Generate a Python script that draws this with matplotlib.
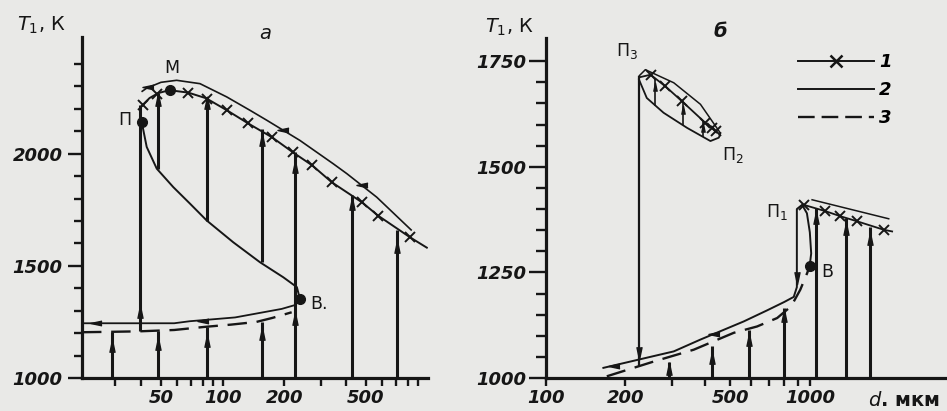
import matplotlib.pyplot as plt
from matplotlib.lines import Line2D
from matplotlib.ticker import NullFormatter

plt.rcParams['font.family'] = ['DejaVu Sans']
plt.rcParams['lines.scale_dashes'] = False
plt.rcParams['mathtext.fontset'] = 'dejavusans'

INK = '#161616'
BG = '#e9e9e7'

# ---------------- panel a (d, um -> T1, K) ----------------
# curve 1 (steady burning, with x marks)
a_c1_d = [40, 44, 48.5, 55, 68, 83, 105, 133, 174, 220, 273, 341, 478, 572, 820, 990]
a_c1_T = [2210, 2248, 2270, 2283, 2272, 2247, 2193, 2135, 2073, 2006, 1948, 1872, 1783, 1724, 1627, 1581]
a_mark_d = [41, 48, 68, 84, 105, 133, 174, 220, 273, 341, 478, 572, 820]
a_mark_T = [2215, 2265, 2272, 2245, 2193, 2135, 2073, 2006, 1948, 1872, 1783, 1724, 1627]
# thin line above curve 1
a_top_d = [40.5, 42.6, 50, 59.6, 77.5, 104.6, 136, 164, 238, 346, 403, 564, 830]
a_top_T = [2278, 2292, 2318, 2327, 2312, 2253, 2193, 2149, 2059, 1955, 1911, 1806, 1660]
# curve 2: П -> В and lower branch back to the left
a_c2_d = [40.3, 42.6, 47.7, 57.4, 69.3, 83.6, 112.6, 152, 197.5, 230, 238]
a_c2_T = [2140, 2030, 1933, 1851, 1777, 1702, 1605, 1516, 1449, 1405, 1353]
a_low_d = [238, 225, 194, 115, 69, 58, 21]
a_low_T = [1353, 1325, 1308, 1270, 1253, 1244, 1244]
# curve 3 (dashed)
a_c3_d = [20.6, 29, 39, 58, 82, 110, 146, 175, 217]
a_c3_T = [1204, 1206, 1208, 1214, 1228, 1238, 1250, 1268, 1293]
# vertical jumps
a_v_d = [29, 39.5, 48.5, 48.5, 84, 84, 155, 155, 225, 426, 705]
a_v_lo = [1000, 1208, 1000, 1933, 1000, 1702, 1000, 1516, 1000, 1000, 1000]
a_v_hi = [1204, 2215, 1211, 2270, 1226, 2247, 1248, 2110, 2006, 1814, 1660]
a_up_d = [29, 39.5, 48.5, 48.5, 84, 84, 155, 155, 225, 225, 426, 705]
a_up_T = [1144, 1292, 1152, 2238, 1167, 2224, 1196, 2060, 1265, 1940, 1777, 1583]
a_left_d = [43, 197, 476, 24, 80]
a_left_T = [2296, 2105, 1862, 1244, 1256]
a_dot_d = [40.3, 55.4, 238]
a_dot_T = [2140, 2283, 1353]

# ---------------- panel b ----------------
b_c1_d = [226, 249, 283, 328, 402, 426, 440]
b_c1_T = [1712, 1718, 1691, 1655, 1604, 1592, 1584]
b_top_d = [226, 238, 305, 385, 458]
b_top_T = [1716, 1730, 1699, 1648, 1580]
b_bot_d = [225, 241, 279, 343, 420, 452, 458]
b_bot_T = [1707, 1663, 1628, 1592, 1561, 1569, 1580]
b_r1_d = [935, 948, 1146, 1306, 1511, 1906, 2051]
b_r1_T = [1408, 1410, 1395, 1383, 1371, 1351, 1347]
b_rtop_d = [1020, 1991]
b_rtop_T = [1422, 1377]
b_c2_d = [165, 305, 385, 562, 688, 800, 869, 893, 893, 935, 975, 1000, 1012, 999]
b_c2_T = [1024, 1063, 1091, 1134, 1160, 1180, 1192, 1215, 1400, 1410, 1390, 1345, 1295, 1266]
b_c3_d = [170, 256, 363, 515, 631, 752, 850, 920, 978, 999]
b_c3_T = [1004, 1039, 1067, 1107, 1122, 1142, 1170, 1209, 1249, 1266]
b_v_d = [292, 426, 587, 796, 1060, 1377, 1687]
b_v_lo = [1000, 1000, 1000, 1000, 1000, 1000, 1000]
b_v_hi = [1039, 1075, 1114, 1166, 1403, 1379, 1357]
b_p3_d = [225, 225]
b_p3_T = [1712, 1031]
b_in_d = [260, 331, 395]
b_in_lo = [1645, 1599, 1571]
b_in_hi = [1710, 1653, 1609]
b_up_d = [292, 426, 587, 796, 1060, 1377, 1687, 260, 331, 395]
b_up_T = [1022, 1048, 1091, 1146, 1380, 1352, 1330, 1690, 1635, 1593]
b_down_d = [225, 893]
b_down_T = [1060, 1237]
b_left_d = [181, 432]
b_left_T = [1029, 1103]
b_dot_d = [999]
b_dot_T = [1266]

UP = [(-0.42, -1), (0, 1), (0.42, -1)]
DOWN = [(-0.42, 1), (0, -1), (0.42, 1)]
LEFT = [(1, -0.42), (-1, 0), (1, 0.42)]

fig = plt.figure(figsize=(9.47, 4.11), dpi=100, facecolor=BG)
W, H = 947, 411
axa = fig.add_axes([82 / W, 1 - 378 / H, (428 - 82) / W, (378 - 37) / H])
axb = fig.add_axes([546 / W, 1 - 378 / H, (947 - 546) / W, (378 - 38) / H])

for ax in (axa, axb):
    ax.set_facecolor('none')
    ax.set_xscale('log')
    for s in ('top', 'right'):
        ax.spines[s].set_visible(False)
    for s in ('left', 'bottom'):
        ax.spines[s].set_linewidth(2.3)
        ax.spines[s].set_color(INK)
    ax.xaxis.set_minor_formatter(NullFormatter())
    ax.tick_params(which='both', direction='out', colors=INK, width=1.7,
                   labelsize=13, pad=2)
    ax.tick_params(axis='x', which='both', length=6)

# ----- panel a drawing -----
axa.set_xlim(20.6, 1003)
axa.set_ylim(1000, 2520)
axa.set_xticks([50, 100, 200, 500], labels=['50', '100', '200', '500'])
axa.set_xticks([30, 40, 60, 70, 80, 90, 300, 400, 600, 700, 800, 900], minor=True)
axa.set_yticks([1000, 1500, 2000], labels=['1000', '1500', '2000'])
axa.set_yticks([t for t in range(1100, 2500, 100) if t not in (1500, 2000)], minor=True)
axa.tick_params(axis='y', which='major', length=10, pad=4)
axa.tick_params(axis='y', which='minor', length=6)

axa.plot(a_c1_d, a_c1_T, color=INK, lw=1.4)
axa.plot(a_mark_d, a_mark_T, ls='none', marker='x', ms=7, mew=1.4, color=INK)
axa.plot(a_top_d, a_top_T, color=INK, lw=1.2)
axa.plot(a_c2_d, a_c2_T, color=INK, lw=1.4)
axa.plot(a_low_d, a_low_T, color=INK, lw=1.3)
axa.plot(a_c3_d, a_c3_T, color=INK, lw=1.7, dashes=(14, 7))
axa.vlines(a_v_d, a_v_lo, a_v_hi, color=INK, lw=2.2)
axa.plot(a_up_d, a_up_T, ls='none', marker=UP, ms=9, color=INK)
axa.plot(a_left_d, a_left_T, ls='none', marker=LEFT, ms=8, color=INK)
axa.plot(a_dot_d, a_dot_T, ls='none', marker='o', ms=7, color=INK)

lbl = dict(fontsize=12.5, color=INK, ha='center', va='center')
axa.text(33.4, 2149, 'П', **lbl)
axa.text(56.6, 2381, 'М', **lbl)
axa.text(295, 1330, 'В.', **lbl)
axa.text(161, 2537, 'а', fontsize=14, style='italic', color=INK, ha='center', va='center')

# ----- panel b drawing -----
axb.set_xlim(100, 3311)
axb.set_ylim(1000, 1805)
axb.set_xticks([100, 200, 500, 1000], labels=['100', '200', '500', '1000'])
axb.set_xticks([300, 400, 600, 700, 800, 900], minor=True)
axb.set_yticks([1000, 1250, 1500, 1750], labels=['1000', '1250', '1500', '1750'])
axb.set_yticks([t for t in range(1050, 1800, 50) if t % 250], minor=True)
axb.tick_params(axis='y', which='major', length=12, pad=2)
axb.tick_params(axis='y', which='minor', length=7)

axb.plot(b_c1_d, b_c1_T, color=INK, lw=1.3)
axb.plot(b_c1_d[1:], b_c1_T[1:], ls='none', marker='x', ms=7, mew=1.4, color=INK)
axb.plot(b_top_d, b_top_T, color=INK, lw=1.1)
axb.plot(b_bot_d, b_bot_T, color=INK, lw=1.3)
axb.plot(b_r1_d, b_r1_T, color=INK, lw=1.3)
axb.plot(b_r1_d[1:-1], b_r1_T[1:-1], ls='none', marker='x', ms=7, mew=1.4, color=INK)
axb.plot(b_rtop_d, b_rtop_T, color=INK, lw=1.1)
axb.plot(b_c2_d, b_c2_T, color=INK, lw=1.4)
axb.plot(b_c3_d, b_c3_T, color=INK, lw=1.7, dashes=(14, 7))
axb.plot(b_p3_d, b_p3_T, color=INK, lw=1.6)
axb.vlines(b_v_d, b_v_lo, b_v_hi, color=INK, lw=2.2)
axb.vlines(b_in_d, b_in_lo, b_in_hi, color=INK, lw=1.2)
axb.plot(b_up_d[:7], b_up_T[:7], ls='none', marker=UP, ms=9, color=INK)
axb.plot(b_up_d[7:], b_up_T[7:], ls='none', marker=UP, ms=6, color=INK)
axb.plot(b_down_d, b_down_T, ls='none', marker=DOWN, ms=9, color=INK)
axb.plot(b_left_d, b_left_T, ls='none', marker=LEFT, ms=8, color=INK)
axb.plot(b_dot_d, b_dot_T, ls='none', marker='o', ms=7, color=INK)

axb.text(203, 1774, 'П$_3$', **lbl)
axb.text(513, 1529, 'П$_2$', **lbl)
axb.text(753, 1392, 'П$_1$', **lbl)
axb.text(1166, 1252, 'В', **lbl)
axb.text(458, 1820, 'б', fontsize=14, style='italic', weight='bold', color=INK,
         ha='center', va='center')

for ax in (axa, axb):
    for t in ax.get_xticklabels() + ax.get_yticklabels():
        t.set_fontstyle('italic')
        t.set_fontweight('bold')

# axis titles
fig.text(17 / W, 1 - 25 / H, r'$T_{\mathit{1}}$, К', fontsize=14, color=INK, ha='left', va='center')
fig.text(485 / W, 1 - 27 / H, r'$T_{\mathit{1}}$, К', fontsize=14, color=INK, ha='left', va='center')
fig.text(868 / W, 1 - 400 / H, r'$\mathbf{\mathit{d}}$. мкм', fontsize=14, weight='bold',
         color=INK, ha='left', va='center')

# legend
h1 = Line2D([], [], color=INK, lw=1.4, marker='x', ms=8, mew=1.8)
h2 = Line2D([], [], color=INK, lw=1.4)
h3 = Line2D([], [], color=INK, lw=1.7, dashes=(12, 5))
fig.legend([h1, h2, h3], ['1', '2', '3'], loc='upper left',
           bbox_to_anchor=(798 / W, 1 - 53 / H), frameon=False,
           handlelength=4.2, handletextpad=0.3, labelspacing=0.55,
           borderpad=0, borderaxespad=0,
           prop={'size': 13, 'style': 'italic', 'weight': 'bold'})

fig.savefig('out.png', dpi=100, facecolor=BG)
